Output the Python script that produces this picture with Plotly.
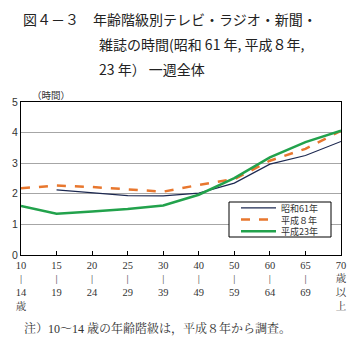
import plotly.graph_objects as go

categories = ["10<br>|<br>14<br>歳", "15<br>|<br>19", "20<br>|<br>24", "25<br>|<br>29",
              "30<br>|<br>39", "40<br>|<br>49", "50<br>|<br>59", "60<br>|<br>64",
              "65<br>|<br>69", "70<br>歳<br>以<br>上"]
s61 = [None, 2.13, 2.04, 1.94, 1.93, 2.02, 2.35, 2.97, 3.25, 3.71]
h8 = [2.18, 2.27, 2.22, 2.15, 2.07, 2.29, 2.48, 3.08, 3.47, 4.06]
h23 = [1.60, 1.35, 1.42, 1.50, 1.62, 1.97, 2.51, 3.19, 3.69, 4.06]
series_names = ["昭和61年", "平成８年", "平成23年"]
y_ticks = [0, 1, 2, 3, 4, 5]

W, H = 359, 349
L, R, T, B = 21, 18, 102, 94
PW, PH = W - L - R, H - T - B

def px(x):
    return (x - L) / PW

def py(y):
    return (H - B - y) / PH

xs = list(range(len(categories)))
serif = "Liberation Serif, 'Noto Serif CJK JP', 'Noto Sans CJK JP', serif"
gothic = "'Noto Sans CJK JP', sans-serif"

styles = [dict(color="#1c2850", width=1.2),
          dict(color="#e8772e", width=2.5, dash="dash"),
          dict(color="#22a24c", width=2.5)]

fig = go.Figure()
for name, ys, st in zip(series_names, [s61, h8, h23], styles):
    fig.add_trace(go.Scatter(x=xs, y=ys, mode="lines", name=name, line=st))

fig.update_layout(
    width=W, height=H,
    margin=dict(l=L, r=R, t=T, b=B),
    paper_bgcolor="white", plot_bgcolor="white",
    showlegend=False,
    font=dict(family=gothic, color="#333"),
)
fig.update_xaxes(
    range=[0, 9], tickvals=xs, ticktext=categories,
    showgrid=False, zeroline=False,
    showline=True, linecolor="black", linewidth=1, mirror=True,
    ticks="inside", ticklen=4, tickcolor="black",
    tickfont=dict(family=serif, size=10.5, color="#333"),
    tickangle=0,
)
fig.update_yaxes(
    range=[0, 5], tickvals=y_ticks,
    showgrid=True, gridcolor="#a6a6a6", gridwidth=1,
    zeroline=True, zerolinecolor="black", zerolinewidth=2,
    showline=True, linecolor="black", linewidth=1, mirror=True,
    ticks="", tickfont=dict(family="Liberation Sans, sans-serif", size=10.5, color="#333"),
)

# legend (drawn manually to match compact spacing)
fig.add_shape(type="rect", xref="paper", yref="paper",
              x0=px(229), x1=px(331), y0=py(237), y1=py(202),
              line=dict(color="black", width=1), fillcolor="white", layer="above")
leg_font = 9
leg_step = leg_font * 1.3
leg_mid = 219.5
leg_y = [leg_mid - leg_step, leg_mid, leg_mid + leg_step]
for st, ly in zip(styles, leg_y):
    fig.add_shape(type="line", xref="paper", yref="paper",
                  x0=px(241), x1=px(276), y0=py(ly), y1=py(ly),
                  line=st, layer="above")
fig.add_annotation(text="<br>".join(series_names), x=px(279), y=py(leg_mid),
                   xref="paper", yref="paper", xanchor="left", yanchor="middle",
                   align="left", showarrow=False,
                   font=dict(family=gothic, size=leg_font, color="#333"))

title_font = dict(family=gothic, size=14, color="#222")
annos = [
    dict(text="図４－３　年齢階級別テレビ・ラジオ・新聞・", x=px(21), y=py(19)),
    dict(text="雑誌の時間(昭和 61 年, 平成８年,", x=px(97), y=py(44)),
    dict(text="23 年） 一週全体", x=px(97), y=py(69)),
]
for a in annos:
    fig.add_annotation(text=a["text"], x=a["x"], y=a["y"], xref="paper", yref="paper",
                       xanchor="left", yanchor="middle", showarrow=False, font=title_font)
fig.add_annotation(text="（時間）", x=px(30), y=py(95), xref="paper", yref="paper",
                   xanchor="left", yanchor="middle", showarrow=False,
                   font=dict(family=gothic, size=9.5, color="#333"))
fig.add_annotation(text="注）10～14 歳の年齢階級は，平成８年から調査。", x=px(22), y=py(328),
                   xref="paper", yref="paper", xanchor="left", yanchor="middle", showarrow=False,
                   font=dict(family=serif, size=12, color="#333"))

fig.write_html("out.html")
